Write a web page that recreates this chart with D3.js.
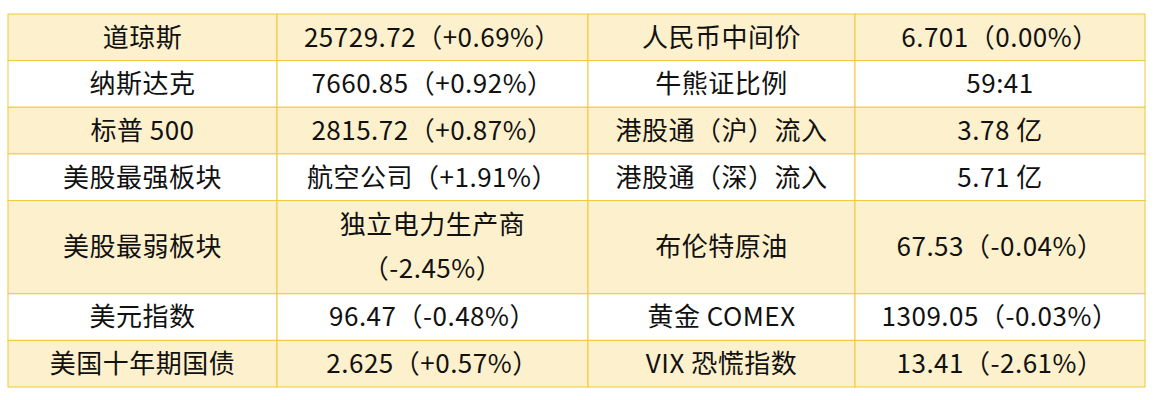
<!DOCTYPE html>
<html><head><meta charset="utf-8">
<script src="https://cdn.jsdelivr.net/npm/d3@7"></script>
<style>body{margin:0;background:#fff}</style>
</head><body><div id="chart"></div>
<script>
const leftLabels = ["道琼斯", "纳斯达克", "标普 500", "美股最强板块", "美股最弱板块", "美元指数", "美国十年期国债"];
const leftValues = ["25729.72（+0.69%）", "7660.85（+0.92%）", "2815.72（+0.87%）", "航空公司（+1.91%）", ["独立电力生产商", "（-2.45%）"], "96.47（-0.48%）", "2.625（+0.57%）"];
const rightLabels = ["人民币中间价", "牛熊证比例", "港股通（沪）流入", "港股通（深）流入", "布伦特原油", "黄金 COMEX", "VIX 恐慌指数"];
const rightValues = ["6.701（0.00%）", "59:41", "3.78 亿", "5.71 亿", "67.53（-0.04%）", "1309.05（-0.03%）", "13.41（-2.61%）"];
const rowUnits = [1, 1, 1, 1, 2, 1, 1];
const colUnits = [269, 311, 267, 290];

const W = 1162, H = 400;
const svg = d3.select("#chart").append("svg").attr("width", W).attr("height", H);

const rowStart = d3.cumsum([0, ...rowUnits]);
const colStart = d3.cumsum([0, ...colUnits]);
const y = d3.scaleLinear().domain([0, d3.sum(rowUnits)]).range([14, 387]);
const x = d3.scaleLinear().domain([0, d3.sum(colUnits)]).range([8, 1145]);

const cells = [];
leftLabels.forEach((_, i) => {
    [leftLabels[i], leftValues[i], rightLabels[i], rightValues[i]].forEach((t, j) => {
        cells.push({row: i, col: j, text: Array.isArray(t) ? t : [t]});
    });
});

const g = svg.selectAll("g.cell").data(cells).enter().append("g").attr("class", "cell");

g.append("rect")
    .attr("x", d => x(colStart[d.col]))
    .attr("y", d => y(rowStart[d.row]))
    .attr("width", d => x(colStart[d.col + 1]) - x(colStart[d.col]))
    .attr("height", d => y(rowStart[d.row + 1]) - y(rowStart[d.row]))
    .attr("fill", d => d.row % 2 === 0 ? "#fdf0cc" : "#ffffff")
    .attr("stroke", "#f0c83c")
    .attr("stroke-width", 1);

g.each(function (d) {
    const cx = (x(colStart[d.col]) + x(colStart[d.col + 1])) / 2;
    const cy = (y(rowStart[d.row]) + y(rowStart[d.row + 1])) / 2;
    const lh = 44;
    d.text.forEach((t, k) => {
        d3.select(this).append("text")
            .attr("x", cx)
            .attr("y", cy + (k - (d.text.length - 1) / 2) * lh)
            .attr("dy", "0.36em")
            .attr("text-anchor", "middle")
            .attr("font-family", "'Noto Sans CJK SC', 'Noto Sans', sans-serif")
            .attr("font-size", 26)
            .attr("letter-spacing", "0.5px")
            .attr("fill", "#111")
            .text(t);
    });
});
</script></body></html>
